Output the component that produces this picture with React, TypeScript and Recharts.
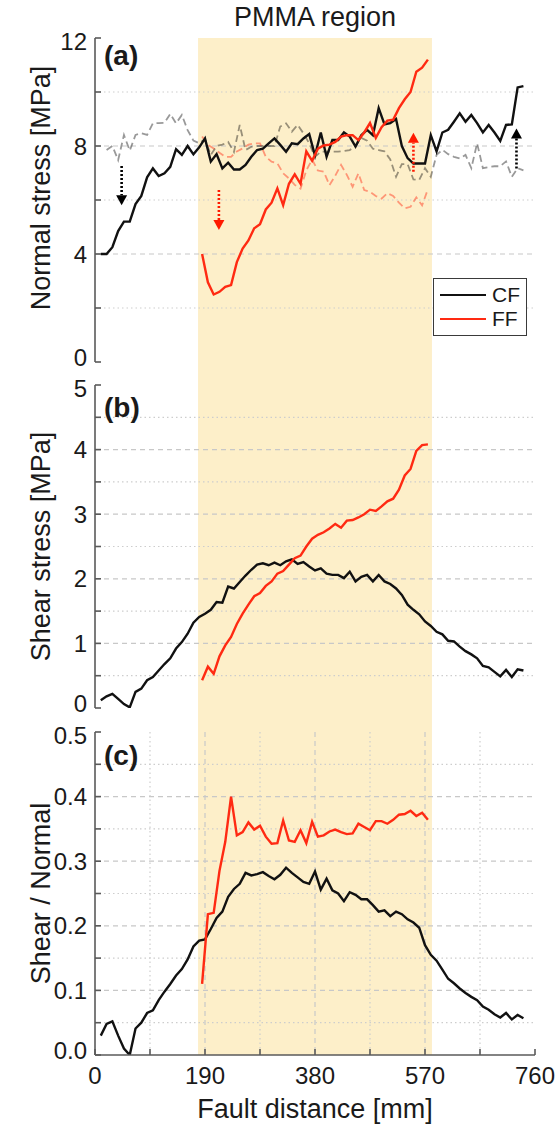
import React from 'react';
import { LineChart, Line, XAxis, YAxis, CartesianGrid, ReferenceArea, ReferenceLine, Legend } from 'recharts';

// fault distance [mm] for the conventional fault (CF) and the frictional fault (FF)
const cfDist = [
  10, 20, 30, 40, 50, 60, 70, 80, 90, 100,
  110, 120, 130, 140, 150, 160, 170, 180, 190, 200,
  210, 220, 230, 240, 250, 260, 270, 280, 290, 300,
  310, 320, 330, 340, 350, 360, 370, 380, 390, 400,
  410, 420, 430, 440, 450, 460, 470, 480, 490, 500,
  510, 520, 530, 540, 550, 560, 570, 580, 590, 600,
  610, 620, 630, 640, 650, 660, 670, 680, 690, 700,
  710, 720, 730, 740,
];
const ffDist = [
  185, 195, 205, 215, 225, 235, 245, 255, 265, 275,
  285, 295, 305, 315, 325, 335, 345, 355, 365, 375,
  385, 395, 405, 415, 425, 435, 445, 455, 465, 475,
  485, 495, 505, 515, 525, 535, 545, 555, 565, 575,
];

// (a) normal stress [MPa]
const cfNormal = [
  4.0, 4.0, 4.25, 4.85, 5.2, 5.2, 5.85, 6.15, 6.84, 7.17,
  6.89, 6.99, 7.23, 7.88, 7.67, 8.0, 7.69, 7.95, 8.28, 7.42,
  7.7, 7.17, 7.38, 7.13, 7.13, 7.3, 7.6, 7.85, 7.9, 8.1,
  8.28, 8.04, 7.79, 8.1, 8.07, 8.28, 8.44, 7.65, 8.5, 7.6,
  8.22, 8.22, 8.5, 8.35, 7.98, 8.4, 8.6, 8.4, 9.4, 8.8,
  8.85, 9.0, 8.0, 7.55, 7.35, 7.35, 7.35, 8.4, 7.8, 8.5,
  8.6, 8.9, 9.21, 8.9, 9.15, 8.85, 8.5, 8.78, 8.5, 8.19,
  8.78, 8.8, 10.17, 10.22,
];
const cfNormalInitial = [
  null, 7.85, 8.0, 7.48, 8.41, 7.83, 8.41, 8.47, 8.41, 8.84,
  8.85, 8.86, 9.19, 8.84, 9.15, 8.59, 8.2, 8.1, 8.25, 7.67,
  8.0, 8.05, 8.15, 7.78, 8.78, 7.85, 7.97, 8.0, 8.0, 8.0,
  8.0, 8.72, 8.84, 8.53, 8.78, 8.47, 8.1, 7.6, 7.79, 7.79,
  7.79, 7.79, 7.82, 7.85, 8.0, 8.3, 8.2, 7.9, 7.85, 7.8,
  7.5, 6.86, 7.33, 7.33, 6.76, 6.74, 7.18, 6.86, 7.67, 7.86,
  7.7, 7.6, 7.54, 7.67, 7.18, 8.1, 7.18, 7.22, 7.25, 7.25,
  7.43, 6.86, 7.18, 7.1,
];
const ffNormal = [
  4.0, 2.95, 2.5, 2.6, 2.78, 2.85, 3.7, 4.2, 4.5, 4.95,
  5.1, 5.65, 5.9, 6.43, 5.81, 6.6, 6.95, 6.6, 7.8, 7.45,
  7.9, 8.02, 8.05, 8.15, 8.35, 8.4, 8.4, 8.22, 8.5, 8.85,
  8.3, 8.7, 8.94, 8.97, 9.4, 9.73, 10.0, 10.75, 10.9, 11.2,
];
const ffNormalInitial = [
  8.35, 8.04, 7.91, 7.75, 7.6, 7.6, 7.8, 7.91, 8.05, 8.1,
  8.1, 7.6, 7.42, 7.36, 6.99, 6.8, 6.56, 6.42, 7.1, 7.5,
  7.09, 7.05, 6.55, 6.9, 7.3, 6.93, 6.49, 6.99, 6.37, 6.3,
  6.15, 6.05, 6.25, 6.15, 5.9, 5.69, 5.75, 6.1, 5.8, 6.4,
];

// (b) shear stress [MPa]
const cfShear = [
  0.12, 0.18, 0.22, 0.14, 0.06, 0.01, 0.25, 0.3, 0.43, 0.48,
  0.58, 0.68, 0.77, 0.92, 1.02, 1.15, 1.32, 1.41, 1.46, 1.52,
  1.64, 1.63, 1.88, 1.85, 1.95, 2.05, 2.14, 2.22, 2.24, 2.21,
  2.25, 2.21, 2.27, 2.3, 2.23, 2.26, 2.19, 2.13, 2.16, 2.08,
  2.06, 2.06, 2.01, 2.11, 1.96, 2.03, 2.06, 1.96, 2.06, 1.96,
  1.92, 1.85, 1.75, 1.6, 1.52, 1.45, 1.34, 1.27, 1.18, 1.14,
  1.04, 1.03, 0.95, 0.88, 0.83, 0.77, 0.65, 0.63, 0.56, 0.49,
  0.59, 0.48, 0.6, 0.58,
];
const ffShear = [
  0.43, 0.64, 0.53, 0.8, 0.97, 1.1, 1.3, 1.46, 1.6, 1.73,
  1.78, 1.89, 1.96, 2.08, 2.12, 2.22, 2.32, 2.36, 2.5, 2.62,
  2.68, 2.72, 2.78, 2.85, 2.79, 2.9, 2.91, 2.95, 3.0, 3.07,
  3.05, 3.12, 3.2, 3.24, 3.38, 3.6, 3.7, 3.98, 4.07, 4.08,
];

// (c) shear / normal
const cfRatio = [
  0.03, 0.048, 0.052, 0.03, 0.01, 0.0, 0.041, 0.05, 0.065, 0.069,
  0.085, 0.098, 0.11, 0.123, 0.133, 0.148, 0.168, 0.177, 0.179, 0.195,
  0.212, 0.222, 0.245, 0.257, 0.265, 0.282, 0.278, 0.28, 0.283, 0.277,
  0.272, 0.279, 0.29, 0.282, 0.275, 0.268, 0.265, 0.284, 0.256, 0.273,
  0.255, 0.25, 0.238, 0.252, 0.248, 0.241, 0.241, 0.232, 0.222, 0.224,
  0.215, 0.222, 0.218, 0.21, 0.205, 0.197, 0.17, 0.155, 0.146, 0.132,
  0.118, 0.111, 0.103, 0.096, 0.09, 0.085, 0.075, 0.07, 0.063, 0.058,
  0.065, 0.055, 0.062, 0.057,
];
const ffRatio = [
  0.11, 0.218, 0.22, 0.285, 0.33, 0.4, 0.34, 0.345, 0.36, 0.349,
  0.355, 0.338, 0.327, 0.328, 0.363, 0.332, 0.33, 0.348, 0.328, 0.361,
  0.338, 0.34, 0.346, 0.349, 0.345, 0.342, 0.343, 0.358, 0.353, 0.348,
  0.362, 0.362, 0.358, 0.364, 0.372, 0.373, 0.378, 0.37, 0.375, 0.364,
];

const distTicks = [0, 95, 190, 285, 380, 475, 570, 665, 760];
const normalTicks = [0, 2, 4, 6, 8, 10, 12];
const shearTicks = [0, 0.5, 1, 1.5, 2, 2.5, 3, 3.5, 4, 4.5, 5];
const ratioTicks = [0, 0.05, 0.1, 0.15, 0.2, 0.25, 0.3, 0.35, 0.4, 0.45, 0.5];
const pmmaRange = [178, 582];

// dotted arrows in (a): distance, start and end stress
const arrows = [
  { d: 46, from: 7.26, to: 5.81, color: '#000' },
  { d: 214, from: 6.37, to: 4.89, color: '#ff1a00' },
  { d: 550, from: 7.05, to: 8.49, color: '#ff1a00' },
  { d: 728, from: 7.17, to: 8.65, color: '#000' },
];

const cfRows = cfDist.map((d, i) => ({ d, normal: cfNormal[i], initial: cfNormalInitial[i], shear: cfShear[i], ratio: cfRatio[i] }));
const ffRows = ffDist.map((d, i) => ({ d, normal: ffNormal[i], initial: ffNormalInitial[i], shear: ffShear[i], ratio: ffRatio[i] }));

const W = 559;
const FONT = '"Liberation Sans", Arial, sans-serif';
const TEXT = '#1a1a1a';
const FRAME = '#5a5a5a';
const CF_COLOR = '#111';
const FF_COLOR = '#ff2a12';

const distLabel = (v: number) => (v % 190 === 0 ? String(v) : '');
const normalLabel = (v: number) => (v % 4 === 0 ? String(v) : '');
const shearLabel = (v: number) => (Number.isInteger(v) ? String(v) : '');
const ratioLabel = (v: number) => (Math.round(v * 100) % 10 === 0 ? v.toFixed(1) : '');

const arrowShape = (color: string) => (p: any) => {
  const { x1, y1, x2, y2 } = p;
  const dir = y2 > y1 ? 1 : -1;
  const head = 10;
  return (
    <g>
      <line x1={x1} y1={y1} x2={x2} y2={y2 - dir * head} stroke={color} strokeWidth={2.6} strokeDasharray="2 2" />
      <polygon points={`${x2 - 5.5},${y2 - dir * head} ${x2 + 5.5},${y2 - dir * head} ${x2},${y2}`} fill={color} />
    </g>
  );
};

// y tick label; the end labels sit a little inside so neighbouring panels don't collide
const YTick = ({ x, y, payload, fmt, lo, hi }: any) => {
  const label = fmt(payload.value);
  if (!label) return null;
  const shift = payload.value === lo ? -5 : payload.value === hi ? 3 : 0;
  return (
    <text x={x} y={y + shift} dy="0.355em" textAnchor="end" fontSize={24} fill={TEXT} fontFamily={FONT}>
      {label}
    </text>
  );
};

const LegendBox = (props: any) => {
  const items = (props.payload || []).filter((p: any) => p.type !== 'none');
  return (
    <div style={{ border: `1.5px solid #3a3a3a`, background: '#fff', padding: '4px 6px', width: 94, boxSizing: 'border-box' }}>
      {items.map((p: any) => (
        <div key={p.value} style={{ display: 'flex', alignItems: 'center', height: 24 }}>
          <span style={{ display: 'inline-block', width: 46, height: 0, borderTop: `2.5px solid ${p.color}`, marginRight: 6 }} />
          <span style={{ fontSize: 21, fontFamily: FONT, color: TEXT, lineHeight: '24px' }}>{p.value}</span>
        </div>
      ))}
    </div>
  );
};

type PanelProps = {
  top: number;
  height: number;
  mt: number;
  mb: number;
  yDomain: [number, number];
  yTicks: number[];
  yFormat: (v: number) => string;
  yLabel: string;
  yLabelShift?: number;
  tag: string;
  tagTop: number;
  showX?: boolean;
  children?: React.ReactNode;
};

const axisLine = { stroke: FRAME, strokeWidth: 1.6 };
const tickStyle = { fontSize: 24, fill: TEXT, fontFamily: FONT };

const Panel = ({ top, height, mt, mb, yDomain, yTicks, yFormat, yLabel, yLabelShift = 0, tag, tagTop, showX, children }: PanelProps) => {
  const inner = (t: number) => t > yDomain[0] && t < yDomain[1];
  const yMajor = yTicks.filter((t) => inner(t) && yFormat(t) !== '');
  const yMinor = yTicks.filter((t) => inner(t) && yFormat(t) === '');
  const xMajor = distTicks.filter((t) => t > 0 && t < 760 && distLabel(t) !== '');
  const xMinor = distTicks.filter((t) => t > 0 && t < 760 && distLabel(t) === '');
  return (
    <>
      <div style={{ position: 'absolute', left: 0, top }}>
        <LineChart width={W} height={height} margin={{ top: mt, right: 24, bottom: mb, left: -15 }}>
          <CartesianGrid horizontalValues={yMajor} verticalValues={xMajor} stroke="#c8c8c8" strokeWidth={1.2} strokeDasharray="5 4" />
          <CartesianGrid horizontalValues={yMinor} verticalValues={xMinor} stroke="#cdcdcd" strokeWidth={1.2} strokeDasharray="1.5 3" />
          <XAxis
            dataKey="d"
            type="number"
            domain={[0, 760]}
            allowDataOverflow
            ticks={distTicks}
            interval={0}
            tickFormatter={distLabel}
            height={showX ? 60 : 0}
            tick={showX ? tickStyle : false}
            tickSize={-6}
            tickMargin={18}
            axisLine={axisLine}
            tickLine={axisLine}
            label={showX ? { value: 'Fault distance [mm]', position: 'insideBottom', offset: -3, fontSize: 27, fill: TEXT, fontFamily: FONT } : undefined}
          />
          <XAxis xAxisId="top" orientation="top" type="number" domain={[0, 760]} allowDataOverflow ticks={distTicks} interval={0} height={0} tick={false} tickSize={-6} axisLine={axisLine} tickLine={axisLine} />
          <YAxis
            type="number"
            domain={yDomain}
            allowDataOverflow
            ticks={yTicks}
            interval={0}
            width={110}
            tick={(p: any) => <YTick {...p} fmt={yFormat} lo={yDomain[0]} hi={yDomain[1]} />}
            tickSize={-6}
            tickMargin={14}
            axisLine={axisLine}
            tickLine={axisLine}
            label={{ value: yLabel, angle: -90, position: 'center', dy: yLabelShift, fontSize: 27, fill: TEXT, fontFamily: FONT }}
          />
          <YAxis yAxisId="right" orientation="right" type="number" domain={yDomain} allowDataOverflow ticks={yTicks} interval={0} width={0} tick={false} tickSize={-6} axisLine={axisLine} tickLine={axisLine} />
          {children}
        </LineChart>
      </div>
      <div style={{ position: 'absolute', left: 104, top: tagTop, fontSize: 28, lineHeight: '28px', fontWeight: 700, fontFamily: FONT, color: TEXT }}>{tag}</div>
    </>
  );
};

const App = () => {
  return (
    <div style={{ position: 'absolute', left: 0, top: 0, width: W, height: 1127, background: '#fff', fontFamily: FONT }}>
      {/* shaded PMMA band running through all three panels */}
      <div style={{ position: 'absolute', left: 0, top: 0 }}>
        <LineChart width={W} height={1055} margin={{ top: 38, right: 24, bottom: 0, left: 95 }} data={cfRows}>
          <XAxis dataKey="d" type="number" domain={[0, 760]} hide />
          <YAxis type="number" domain={[0, 1]} hide />
          <Line dataKey="ratio" stroke="none" dot={false} legendType="none" isAnimationActive={false} />
          <ReferenceArea
            x1={pmmaRange[0]}
            x2={pmmaRange[1]}
            y1={0}
            y2={1}
            ifOverflow="visible"
            fill="#fdefc9"
            fillOpacity={1}
            stroke="none"
            label={{ value: 'PMMA region', position: 'top', offset: 12, fontSize: 27, fill: TEXT, fontFamily: FONT }}
          />
        </LineChart>
      </div>

      <Panel top={0} height={385} mt={38} mb={23} yDomain={[0, 12]} yTicks={normalTicks} yFormat={normalLabel} yLabel="Normal stress [MPa]" yLabelShift={-12} tag="(a)" tagTop={42}>
        <Line data={cfRows} dataKey="initial" stroke="#000" strokeOpacity={0.4} strokeWidth={1.8} strokeDasharray="7 4" dot={false} legendType="none" isAnimationActive={false} />
        <Line data={ffRows} dataKey="initial" stroke={FF_COLOR} strokeOpacity={0.45} strokeWidth={1.8} strokeDasharray="7 4" dot={false} legendType="none" isAnimationActive={false} />
        <Line data={cfRows} dataKey="normal" name="CF" stroke={CF_COLOR} strokeWidth={2.4} dot={false} isAnimationActive={false} />
        <Line data={ffRows} dataKey="normal" name="FF" stroke={FF_COLOR} strokeWidth={2.4} dot={false} isAnimationActive={false} />
        {arrows.map((a, i) => (
          <ReferenceLine key={i} segment={[{ x: a.d, y: a.from }, { x: a.d, y: a.to }]} shape={arrowShape(a.color)} />
        ))}
        <Legend
          layout="vertical"
          align="center"
          verticalAlign="middle"
          content={<LegendBox />}
          wrapperStyle={{ left: 433, top: 278, width: 94 }}
        />
      </Panel>

      <Panel top={370} height={360} mt={15} mb={22} yDomain={[0, 5]} yTicks={shearTicks} yFormat={shearLabel} yLabel="Shear stress [MPa]" tag="(b)" tagTop={394}>
        <Line data={cfRows} dataKey="shear" name="CF" stroke={CF_COLOR} strokeWidth={2.4} dot={false} isAnimationActive={false} />
        <Line data={ffRows} dataKey="shear" name="FF" stroke={FF_COLOR} strokeWidth={2.4} dot={false} isAnimationActive={false} />
      </Panel>

      <Panel top={715} height={412} mt={17} mb={12} yDomain={[0, 0.5]} yTicks={ratioTicks} yFormat={ratioLabel} yLabel="Shear / Normal" tag="(c)" tagTop={742} showX>
        <Line data={cfRows} dataKey="ratio" name="CF" stroke={CF_COLOR} strokeWidth={2.4} dot={false} isAnimationActive={false} />
        <Line data={ffRows} dataKey="ratio" name="FF" stroke={FF_COLOR} strokeWidth={2.4} dot={false} isAnimationActive={false} />
      </Panel>
    </div>
  );
};

export default App;
